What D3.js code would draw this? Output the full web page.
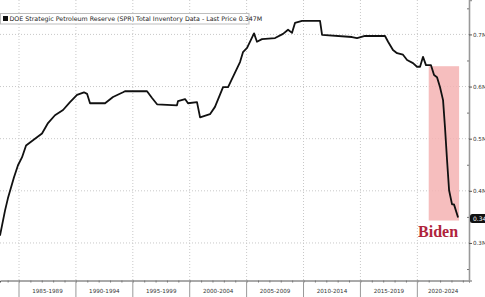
<!DOCTYPE html>
<html><head><meta charset="utf-8">
<script src="https://cdn.jsdelivr.net/npm/d3@7"></script>
<style>body{margin:0;background:#fff;overflow:hidden}svg{display:block}</style>
</head><body><svg id="c" width="485" height="297"></svg>
<script>
const years = [1983.33,1983.77,1984.03,1984.56,1984.91,1985.26,1985.62,1986.23,1987.02,1987.55,1988.16,1988.87,1989.48,1990.10,1990.71,1990.98,1991.24,1992.56,1993.26,1994.14,1994.31,1996.25,1996.69,1997.13,1998.88,1998.97,1999.59,1999.85,2000.64,2000.91,2001.78,2002.22,2002.93,2003.37,2004.42,2004.68,2005.04,2005.65,2005.91,2006.35,2007.50,2008.20,2008.64,2008.99,2009.25,2009.87,2011.45,2011.63,2014.26,2014.70,2015.40,2017.16,2017.43,2017.86,2018.22,2018.74,2019.10,2019.62,2019.97,2020.24,2020.50,2020.76,2021.20,2021.47,2021.73,2021.99,2022.26,2022.43,2022.61,2022.79,2023.05,2023.22,2023.58];
const inventory = [0.314,0.362,0.386,0.426,0.449,0.464,0.487,0.497,0.510,0.530,0.545,0.555,0.570,0.584,0.589,0.586,0.568,0.568,0.580,0.589,0.591,0.591,0.578,0.566,0.564,0.572,0.576,0.568,0.570,0.541,0.547,0.561,0.599,0.599,0.647,0.666,0.674,0.702,0.686,0.691,0.693,0.701,0.709,0.703,0.722,0.726,0.726,0.699,0.695,0.693,0.697,0.697,0.686,0.670,0.664,0.661,0.651,0.645,0.638,0.638,0.657,0.641,0.641,0.622,0.618,0.599,0.574,0.522,0.459,0.401,0.374,0.374,0.349];
const yTicks = [0.3,0.4,0.5,0.6,0.7];
const yTickLabels = ["0.3M","0.4M","0.5M","0.6M","0.7M"];
const yMinorTicks = [0.25,0.35,0.45,0.55,0.65,0.75];
const periodStarts = [1985,1990,1995,2000,2005,2010,2015,2020];
const periodLabels = ["1985-1989","1990-1994","1995-1999","2000-2004","2005-2009","2010-2014","2015-2019","2020-2024"];
const yearTicks = d3.range(1984,2025);
const lastValue = 0.347;
const lastLabel = "0.347M";
const legendText = "DOE Strategic Petroleum Reserve (SPR) Total Inventory Data - Last Price 0.347M";
const highlightYears = [2021.0, 2023.67];
const highlightValues = [0.639, 0.343];
const highlightLabel = "Biden";

const svg = d3.select("#c");
const W = 469, H = 280.5;
const x = d3.scaleLinear().domain([1983.33, 2024.54]).range([0, W]);
const y = d3.scaleLinear().domain([0.228, 0.766]).range([H, 0]);

// gridlines
svg.append("g").selectAll("line").data(yTicks).join("line")
  .attr("x1",0).attr("x2",W).attr("y1",d=>y(d)).attr("y2",d=>y(d))
  .attr("stroke","#c8c8c8").attr("stroke-width",1).attr("stroke-dasharray","1,2");
svg.append("g").selectAll("line").data(periodStarts).join("line")
  .attr("x1",d=>x(d)).attr("x2",d=>x(d)).attr("y1",0).attr("y2",H)
  .attr("stroke","#c8c8c8").attr("stroke-width",1).attr("stroke-dasharray","1,2");

// highlight
svg.append("rect")
  .attr("x",x(highlightYears[0])).attr("width",x(highlightYears[1])-x(highlightYears[0]))
  .attr("y",y(highlightValues[0])).attr("height",y(highlightValues[1])-y(highlightValues[0]))
  .attr("fill","#f5b3b3").attr("opacity",0.85);

// line
const pts = years.map((d,i)=>[d,inventory[i]]);
svg.append("path").datum(pts)
  .attr("d", d3.line().x(d=>x(d[0])).y(d=>y(d[1])))
  .attr("fill","none").attr("stroke","#111").attr("stroke-width",1.8).attr("stroke-linejoin","round");

// Biden label
svg.append("text").attr("x",x(2021.82)).attr("y",y(0.3)-5.5)
  .attr("text-anchor","middle").attr("font-family","'Liberation Serif','DejaVu Serif',serif")
  .attr("font-weight","bold").attr("font-size",16).attr("fill","#b0243c").text(highlightLabel);

// x axis
const xa = svg.append("g").attr("transform",`translate(0,${H})`);
xa.call(d3.axisBottom(x).tickValues(yearTicks).tickSize(2).tickFormat(""));
xa.select(".domain").attr("stroke","#555").attr("stroke-width",1);
xa.selectAll(".tick line").attr("stroke","#777");
xa.append("g").selectAll("line").data(periodStarts).join("line")
  .attr("x1",d=>x(d)).attr("x2",d=>x(d)).attr("y1",0).attr("y2",17)
  .attr("stroke","#999").attr("stroke-width",1);
const ends = periodStarts.map(d=>Math.min(x(d+5),W));
xa.append("g").selectAll("text").data(periodLabels).join("text")
  .attr("x",(d,i)=>(x(periodStarts[i])+ends[i])/2).attr("y",12.5)
  .attr("text-anchor","middle").attr("font-family","'DejaVu Sans',sans-serif")
  .attr("font-size",5.6).attr("fill","#333").text(d=>d);

// y axis
const ya = svg.append("g").attr("transform",`translate(${W},0)`);
ya.call(d3.axisRight(y).tickValues(yTicks).tickSize(3).tickPadding(1).tickFormat((d,i)=>yTickLabels[i]));
ya.select(".domain").attr("stroke","#999").attr("stroke-width",1.6);
ya.selectAll(".tick line").attr("stroke","#555");
ya.selectAll(".tick text").attr("font-family","'DejaVu Sans',sans-serif").attr("font-size",5.6).attr("fill","#333");
const ym = svg.append("g").attr("transform",`translate(${W},0)`);
ym.call(d3.axisLeft(y).tickValues(yMinorTicks).tickSize(2).tickFormat(""));
ym.select(".domain").remove();
ym.selectAll(".tick line").attr("stroke","#777");

// last value tag
const lg = svg.append("g").attr("transform",`translate(${W+1},${y(lastValue)})`);
lg.append("rect").attr("x",0).attr("y",-4.5).attr("width",30).attr("height",9).attr("rx",2.5).attr("fill","#111");
lg.append("text").attr("x",3).attr("y",2.2).attr("font-family","'DejaVu Sans',sans-serif")
  .attr("font-size",6).attr("fill","#fff").text(lastLabel);

// legend
const leg = svg.append("g");
leg.append("rect").attr("x",0.5).attr("y",13.5).attr("width",248.5).attr("height",10.5)
  .attr("fill","#fff").attr("stroke","#bdbdbd").attr("stroke-width",1);
leg.append("rect").attr("x",3).attr("y",16).attr("width",5).attr("height",5).attr("fill","#111");
leg.append("text").attr("x",9.5).attr("y",21.3).attr("font-family","'DejaVu Sans',sans-serif")
  .attr("font-size",6.3).attr("fill","#222").text(legendText);
</script></body></html>
